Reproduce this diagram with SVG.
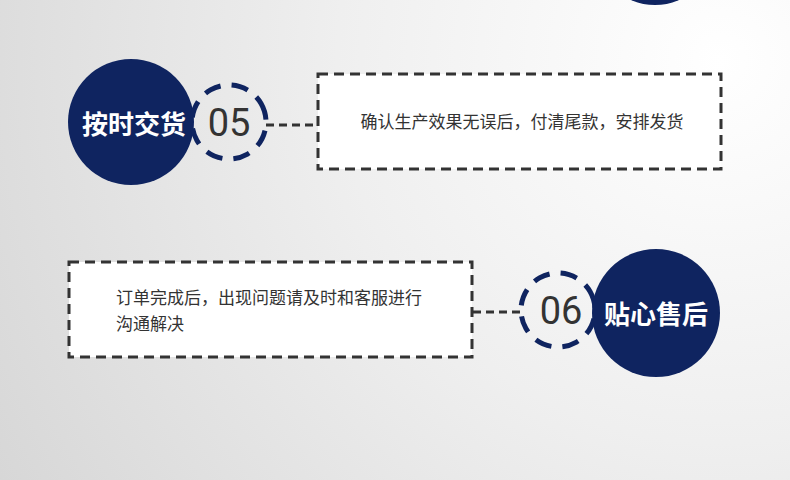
<svg xmlns="http://www.w3.org/2000/svg" width="790" height="480" viewBox="0 0 790 480">
<defs>
<radialGradient id="bg" cx="720" cy="60" r="850" gradientUnits="userSpaceOnUse">
<stop offset="0" stop-color="#ffffff"/>
<stop offset="0.45" stop-color="#efefef"/>
<stop offset="1" stop-color="#d6d6d6"/>
</radialGradient>
<style>
.big{fill:#0f2460}
.ring{fill:none;stroke:#0f2460;stroke-width:5;stroke-dasharray:17 11}
.num{font-family:Roboto,"Liberation Sans",sans-serif;font-weight:400;font-size:38px;fill:#333;text-anchor:middle}
.title{font-family:"Noto Sans CJK SC",sans-serif;font-weight:bold;font-size:26px;fill:#fff;text-anchor:middle}
.box{fill:#fff;stroke:#333;stroke-width:3;stroke-dasharray:10 6}
.conn{fill:none;stroke:#333;stroke-width:3;stroke-dasharray:8 5}
.txt{font-family:"Noto Sans CJK SC",sans-serif;font-size:17px;fill:#333}
</style>
</defs>
<rect x="0" y="0" width="790" height="480" fill="url(#bg)"/>
<g id="top-node"><circle class="big" cx="655" cy="-55" r="60"/></g>
<g id="connectors">
<line class="conn" x1="266" y1="125" x2="318" y2="125"/>
<line class="conn" x1="473" y1="312" x2="522" y2="312"/>
</g>
<g id="node-05">
<circle class="big" cx="131" cy="122" r="63"/>
<circle class="ring" cx="229" cy="122" r="37" transform="rotate(-30 229 122)"/>
<text class="title" x="134" y="134">按时交货</text>
<text class="num" x="229" y="136">05</text>
</g>
<g id="box-05">
<rect class="box" x="318" y="74" width="403" height="95"/>
<text class="txt" x="522" y="128" text-anchor="middle">确认生产效果无误后，付清尾款，安排发货</text>
</g>
<g id="box-06">
<rect class="box" x="69" y="262" width="403" height="95"/>
<text class="txt" x="116" y="304">订单完成后，出现问题请及时和客服进行</text>
<text class="txt" x="116" y="330">沟通解决</text>
</g>
<g id="node-06">
<circle class="ring" cx="558" cy="310" r="37" transform="rotate(-30 558 310)"/>
<circle class="big" cx="656" cy="313" r="64"/>
<text class="num" x="561" y="324">06</text>
<text class="title" x="656" y="324">贴心售后</text>
</g>
</svg>
